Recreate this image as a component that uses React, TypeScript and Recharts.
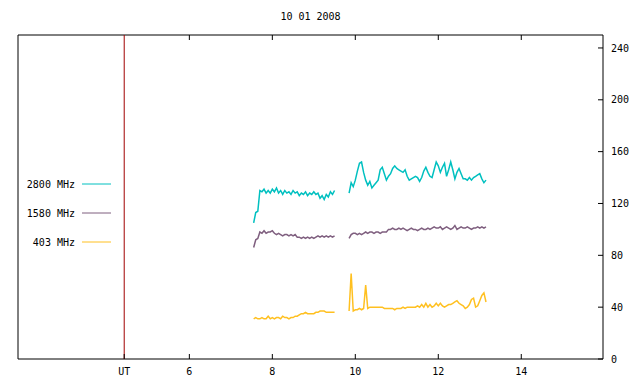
import { LineChart, Line, XAxis, YAxis, ReferenceLine, ReferenceArea } from "recharts";

// hours (UT) of the two recording segments
const timesA = [
  7.55, 7.6, 7.65, 7.7, 7.75, 7.8, 7.85, 7.9, 7.95, 8.0, 8.05, 8.1, 8.15, 8.2, 8.25, 8.3, 8.35, 8.4, 8.45, 8.5,
  8.55, 8.6, 8.65, 8.7, 8.75, 8.8, 8.85, 8.9, 8.95, 9.0, 9.05, 9.1, 9.15, 9.2, 9.25, 9.3, 9.35, 9.4, 9.45, 9.5,
];
const timesB = [
  9.85, 9.9, 9.95, 10.0, 10.05, 10.1, 10.15, 10.2, 10.25, 10.3, 10.35, 10.4, 10.45, 10.5, 10.55, 10.6, 10.65,
  10.7, 10.75, 10.8, 10.85, 10.9, 10.95, 11.0, 11.05, 11.1, 11.15, 11.2, 11.25, 11.3, 11.35, 11.4, 11.45, 11.5,
  11.55, 11.6, 11.65, 11.7, 11.75, 11.8, 11.85, 11.9, 11.95, 12.0, 12.05, 12.1, 12.15, 12.2, 12.25, 12.3, 12.35,
  12.4, 12.45, 12.5, 12.55, 12.6, 12.65, 12.7, 12.75, 12.8, 12.85, 12.9, 12.95, 13.0, 13.05, 13.1, 13.15,
];
const gapTime = 9.68;

const f2800A = [
  105, 113, 114, 130, 129, 131, 128, 130, 128, 131, 129, 132, 128, 130, 127, 130, 128, 129, 127, 130,
  128, 129, 126, 128, 127, 129, 126, 128, 127, 129, 127, 128, 124, 126, 123, 127, 125, 129, 127, 130,
];
const f2800B = [
  128, 136, 133, 138, 145, 151, 152, 144, 138, 134, 137, 132, 134, 136, 138, 146, 148, 143, 138, 141,
  143, 147, 149, 147, 146, 145, 144, 146, 141, 138, 139, 140, 141, 140, 137, 140, 145, 148, 144, 141,
  140, 146, 152, 149, 144, 148, 151, 141, 146, 152, 146, 139, 144, 147, 143, 139, 139, 138, 140, 138,
  140, 141, 142, 143, 139, 136, 138,
];
const f1580A = [
  86, 92, 93, 98, 97, 99, 97, 98, 98, 99, 97, 96, 97, 96, 95, 96, 96, 95, 96, 95,
  96, 94, 94, 93, 94, 93, 94, 93, 94, 93, 94, 95, 94, 95, 94, 95, 94, 95, 94, 95,
];
const f1580B = [
  93, 96, 97, 97, 96, 97, 96, 97, 98, 97, 98, 98, 97, 98, 98, 97, 98, 98, 98, 100,
  100, 101, 100, 100, 101, 100, 101, 100, 99, 100, 101, 100, 100, 99, 100, 101, 100, 100, 101, 100,
  101, 102, 101, 101, 102, 100, 101, 102, 101, 100, 101, 103, 100, 101, 102, 101, 101, 102, 101, 100,
  101, 101, 102, 101, 102, 101, 102,
];
const f403A = [
  31, 32, 31, 31, 32, 31, 31, 33, 31, 32, 31, 32, 32, 31, 33, 32, 32, 31, 32, 32,
  33, 33, 34, 35, 35, 36, 35, 35, 35, 35, 36, 36, 37, 37, 37, 36, 36, 36, 36, 36,
];
const f403B = [
  37, 66, 37, 38, 38, 39, 38, 39, 57, 39, 40, 40, 40, 40, 40, 40, 40, 39, 39, 39,
  39, 39, 38, 39, 39, 39, 40, 39, 40, 40, 40, 40, 40, 41, 40, 42, 40, 43, 40, 42,
  40, 41, 43, 41, 43, 41, 40, 41, 42, 42, 43, 44, 45, 43, 42, 41, 39, 40, 42, 46,
  47, 40, 41, 45, 49, 51, 44,
];

const xDomain = [1.87, 15.97];
const xTicks = [4.43, 6, 8, 10, 12, 14];
const topTicks = [6, 8, 10, 12, 14];
const yTicks = [0, 40, 80, 120, 160, 200, 240];

const series = [
  { key: "f2800", name: "2800 MHz", color: "#00c0c0" },
  { key: "f1580", name: "1580 MHz", color: "#7f5f7f" },
  { key: "f403", name: "403 MHz", color: "#ffc020" },
];

const data = [
  ...timesA.map((t, i) => ({ t, f2800: f2800A[i], f1580: f1580A[i], f403: f403A[i] })),
  { t: gapTime, f2800: null, f1580: null, f403: null },
  ...timesB.map((t, i) => ({ t, f2800: f2800B[i], f1580: f1580B[i], f403: f403B[i] })),
];

const font = "'DejaVu Sans Mono', monospace";
const tickStyle = { fontFamily: font, fontSize: 10, fill: "#000" };

export default function App() {
  return (
    <div style={{ position: "absolute", left: 0, top: 0, width: 640, height: 384, background: "#fff" }}>
      <LineChart width={640} height={384} data={data} margin={{ top: 34, right: 0, bottom: 0, left: 18 }}>
        <XAxis
          dataKey="t"
          type="number"
          domain={xDomain}
          allowDataOverflow
          ticks={xTicks}
          tickFormatter={(v: number) => (v === 4.43 ? "UT" : String(v))}
          height={25}
          axisLine={false}
          tickLine={{ stroke: "#000" }}
          tickSize={-5}
          tickMargin={14}
          tick={tickStyle}
        />
        <XAxis
          xAxisId="top"
          orientation="top"
          dataKey="t"
          type="number"
          domain={xDomain}
          allowDataOverflow
          ticks={topTicks}
          tickFormatter={() => ""}
          height={1}
          axisLine={false}
          tickLine={{ stroke: "#000" }}
          tickSize={-5}
        />
        <YAxis
          orientation="right"
          domain={[0, 250]}
          ticks={yTicks}
          width={37}
          axisLine={false}
          tickLine={{ stroke: "#000" }}
          tickSize={-5}
          tickMargin={13}
          tick={{ ...tickStyle, textAnchor: "start" }}
        />
        <ReferenceArea x1={xDomain[0]} x2={xDomain[1]} y1={0} y2={250} fill="none" stroke="#000" strokeWidth={1} />
        <ReferenceLine x={4.43} stroke="#a00000" strokeWidth={1} />
        {series.map((s) => (
          <Line
            key={s.key}
            dataKey={s.key}
            name={s.name}
            type="linear"
            stroke={s.color}
            strokeWidth={1.5}
            dot={false}
            connectNulls={false}
            isAnimationActive={false}
          />
        ))}
      </LineChart>
      <div
        style={{
          position: "absolute",
          left: 0,
          top: 11,
          width: 621,
          textAlign: "center",
          fontFamily: font,
          fontSize: 10,
          lineHeight: "12px",
        }}
      >
        10 01 2008
      </div>
      <svg style={{ position: "absolute", left: 0, top: 170 }} width={120} height={90}>
        {series.map((s, i) => (
          <g key={s.key}>
            <text x={75} y={14 + i * 29 + 3.5} textAnchor="end" style={tickStyle}>
              {s.name}
            </text>
            <line x1={82} x2={111} y1={14 + i * 29} y2={14 + i * 29} stroke={s.color} strokeWidth={1} />
          </g>
        ))}
      </svg>
    </div>
  );
}
